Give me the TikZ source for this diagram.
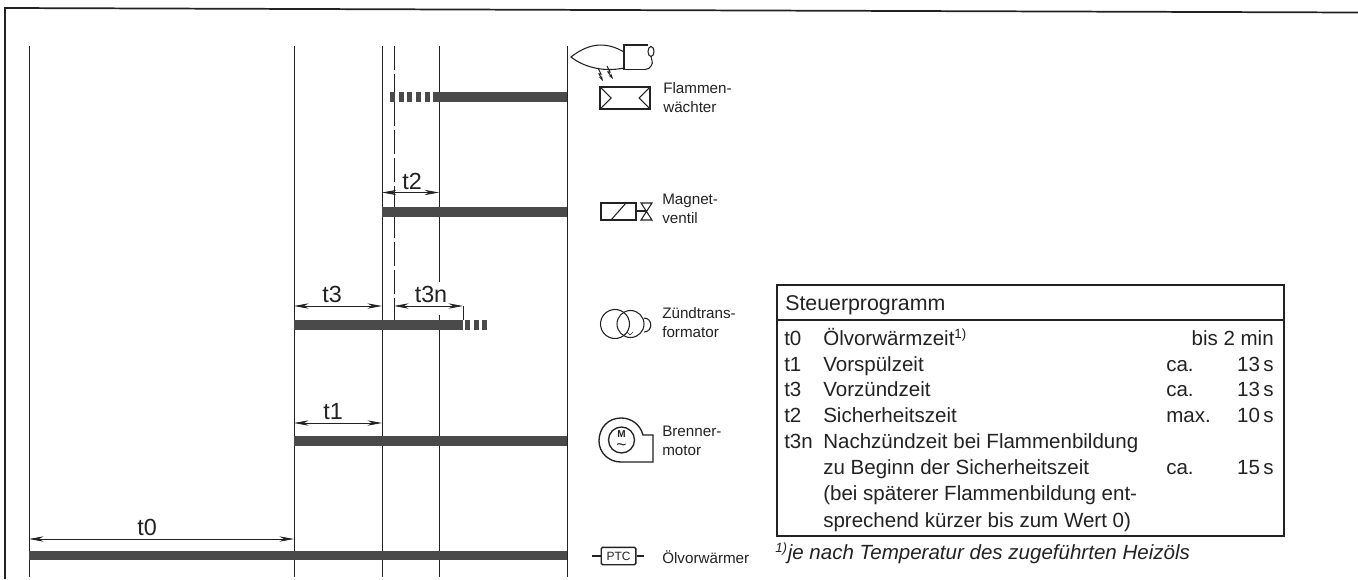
\documentclass[tikz,border=0pt]{standalone}
\usepackage{fontspec}
\setmainfont{Liberation Sans}
\usetikzlibrary{arrows.meta}
\definecolor{ink}{HTML}{222222}
\definecolor{barfill}{HTML}{4A4A4A}
\tikzset{
  frameline/.style={ink,line width=1.3pt},
  vline/.style={ink,line width=0.75pt},
  bar/.style={barfill,line width=7.1pt},
  dots/.style={barfill,line width=7.1pt,dash pattern=on 3.7pt off 2.8pt},
  dim/.style={ink,line width=0.55pt,{Stealth[length=11pt,width=4pt]}-{Stealth[length=11pt,width=4pt]}},
  sym/.style={ink,line width=0.8pt},
  lbl/.style={ink,inner sep=0,font=\fontsize{11.4pt}{14.3pt}\selectfont,align=left,anchor=west},
  tlab/.style={ink,inner sep=0,font=\fontsize{17.5pt}{18pt}\selectfont},
  tbl/.style={ink,inner sep=0,anchor=base west,font=\fontsize{15.4pt}{18pt}\selectfont},
  tblr/.style={ink,inner sep=0,anchor=base east,font=\fontsize{15.4pt}{18pt}\selectfont},
}
\begin{document}
\begin{tikzpicture}[x=0.75pt,y=-0.75pt]
\useasboundingbox (0,0) rectangle (1358,579);
% frame
\coordinate (fa) at (5,579); \coordinate (fb) at (5,8); \coordinate (fc) at (1358,12.5);
\draw[frameline] (fa) -- (fb) -- (fc);
% time lines
\foreach \n/\x in {a/29,b/294,c/382,e/567}{
  \coordinate (\n t) at (\x,46); \coordinate (\n b) at (\x,577);
  \draw[vline] (\n t) -- (\n b);
}
\coordinate (dt) at (439,46); \coordinate (dm) at (439,282);
\coordinate (dn) at (439,315); \coordinate (db) at (439,577);
\draw[vline] (dt) -- (dm); \draw[vline] (dn) -- (db);
\coordinate (ht) at (394,46); \coordinate (hm) at (394,300); \coordinate (hb) at (394,320);
\draw[ink,line width=0.75pt,dash pattern=on 18pt off 3pt] (ht) -- (hm);
\draw[vline] (hm) -- (hb);
% bars
\coordinate (f1) at (433,97); \coordinate (f2) at (567,97);
\draw[bar] (f1) -- (f2);
\coordinate (f0) at (390,97); \coordinate (f00) at (430,97);
\draw[dots] (f0) -- (f00);
\coordinate (m1) at (382,212); \coordinate (m2) at (567,212);
\draw[bar] (m1) -- (m2);
\coordinate (z1) at (294,325); \coordinate (z2) at (463,325);
\draw[bar] (z1) -- (z2);
\coordinate (z3) at (465,325); \coordinate (z4) at (489,325);
\draw[dots] (z3) -- (z4);
\coordinate (b1) at (294,441); \coordinate (b2) at (567,441);
\draw[bar] (b1) -- (b2);
\coordinate (o1) at (29,555.5); \coordinate (o2) at (567,555.5);
\draw[bar] (o1) -- (o2);
% dimensions
\draw[dim] (382,192.5) -- (439,192.5);
\node[tlab] (lt2) at (412,181) {t2};
\draw[dim] (294,306) -- (382,306);
\node[tlab] (lt3) at (332,294) {t3};
\draw[dim] (394,306) -- (463,306);
\node[tlab] (lt3n) at (431,294) {t3n};
\coordinate (tn1) at (463,306); \coordinate (tn2) at (463,320);
\draw[vline] (tn1) -- (tn2);
\draw[dim] (294,423) -- (382,423);
\node[tlab] (lt1) at (333,412) {t1};
\draw[dim] (29,539) -- (294,539);
\node[tlab] (lt0) at (147,527) {t0};
% burner
\draw[sym] (624,52) .. controls (607,42) and (590,42) .. (571,57) .. controls (585,68) and (605,72) .. (624,68);
\draw[sym,line width=1pt] (648,45) -- (624,45) -- (624,69.5) -- (645,69.5);
\draw[sym] (651,51.5) ellipse [x radius=3,y radius=5];
\draw[sym] (651,56.5) .. controls (651,60) and (654,62) .. (651,66) .. controls (650,68) and (648,69.5) .. (645,69.5);
\draw[sym,-{Stealth[length=4pt,width=2.5pt]}] (598,68) -- (601,74) -- (599,74) -- (603,81);
\draw[sym,-{Stealth[length=4pt,width=2.5pt]}] (607,66) -- (610,72) -- (608,72) -- (613,79);
% flame monitor
\draw[sym,line width=1.1pt] (600,87) rectangle (650,109);
\draw[sym] (600,87) -- (611,98) -- (600,109);
\draw[sym] (650,87) -- (639,98) -- (650,109);
\node[lbl] (lf) at (663,97.5) {Flammen-\\wächter};
% valve
\draw[sym,line width=1.1pt] (601,203) rectangle (636,220);
\draw[sym] (611,220) -- (626,203);
\draw[sym] (636,211) -- (646.5,211);
\draw[sym] (641,203) -- (652,203) -- (641,220) -- (652,220) -- cycle;
\node[lbl] (lm) at (662,209) {Magnet-\\ventil};
% transformer
\draw[sym] (615,324) circle [radius=14.5];
\draw[sym] (630.5,324) circle [radius=13.5];
\draw[sym] (644,318) .. controls (653,318) and (653,332) .. (644,332);
\draw[ink,line width=0.4pt] (627,332) -- (630,335) -- (633,332);
\node[lbl] (lz) at (662,323) {Zündtrans-\\formator};
% motor
\draw[sym,line width=1pt] (653,435) -- (643,435) .. controls (640,424) and (631,418) .. (621,418) .. controls (608,418) and (599,428) .. (599,441) .. controls (599,453) and (609,462) .. (621,462) -- (653,462) -- cycle;
\draw[sym,line width=1pt] (621.5,440) circle [radius=13];
\node[ink,inner sep=0,font=\bfseries\fontsize{7.5pt}{8pt}\selectfont] (mm) at (621.5,434) {M};
\node[ink,inner sep=0,font=\fontsize{13pt}{13pt}\selectfont] (mw) at (621.5,450) {\smash{\char"007E}};
\node[lbl] (lb) at (662,441) {Brenner-\\motor};
% PTC
\node[ink,draw,line width=1pt,rounded corners=1pt,minimum width=26pt,minimum height=13pt,inner sep=0,font=\fontsize{9pt}{9pt}\selectfont] (ptc) at (618.5,556) {PTC};
\coordinate (pl) at (592,556); \coordinate (pr) at (644,556);
\draw[sym] (pl) -- (ptc.west); \draw[sym] (ptc.east) -- (pr);
\node[lbl] (lo) at (662,557) {Ölvorwärmer};
% table
\coordinate (ta) at (777,285); \coordinate (tb) at (1284,285); \coordinate (tc) at (1284,536); \coordinate (td) at (777,536);
\draw[ink,line width=1pt] (ta) -- (tb) -- (tc) -- (td) -- cycle;
\coordinate (tl) at (777,320); \coordinate (tr) at (1284,320);
\draw[ink,line width=0.9pt] (tl) -- (tr);
\node[tbl,font=\fontsize{16pt}{18pt}\selectfont] (th) at (785,310) {Steuerprogramm};
\foreach \n/\y/\a/\b in {0/345/t0/{Ölvorwärmzeit\textsuperscript{\fontsize{10pt}{10pt}\selectfont 1)}},1/371/t1/Vorspülzeit,3/396/t3/Vorzündzeit,2/422/t2/Sicherheitszeit,4/448/t3n/{Nachzündzeit bei Flammenbildung}}{
  \node[tbl] (ta\n) at (784,\y) {\a};
  \node[tbl] (tb\n) at (823,\y) {\b};
}
\node[tbl] (tb5) at (823,474) {zu Beginn der Sicherheitszeit};
\node[tbl] (tb6) at (823,500.5) {(bei späterer Flammenbildung ent-};
\node[tbl] (tb7) at (823,527) {sprechend kürzer bis zum Wert 0)};
\node[tblr] (v0) at (1274,345) {bis 2 min};
\node[tbl] (c1) at (1166,371) {ca.}; \node[tblr] (v1) at (1274,371) {13\,s};
\node[tbl] (c3) at (1166,396) {ca.}; \node[tblr] (v3) at (1274,396) {13\,s};
\node[tbl] (c2) at (1166,422) {max.}; \node[tblr] (v2) at (1274,422) {10\,s};
\node[tbl] (c5) at (1166,474) {ca.}; \node[tblr] (v5) at (1274,474) {15\,s};
\node[tbl,font=\itshape\fontsize{15.4pt}{18pt}\selectfont] (fn) at (775,559) {\textsuperscript{\fontsize{10pt}{10pt}\selectfont 1)}je nach Temperatur des zugeführten Heizöls};
\end{tikzpicture}
\end{document}
